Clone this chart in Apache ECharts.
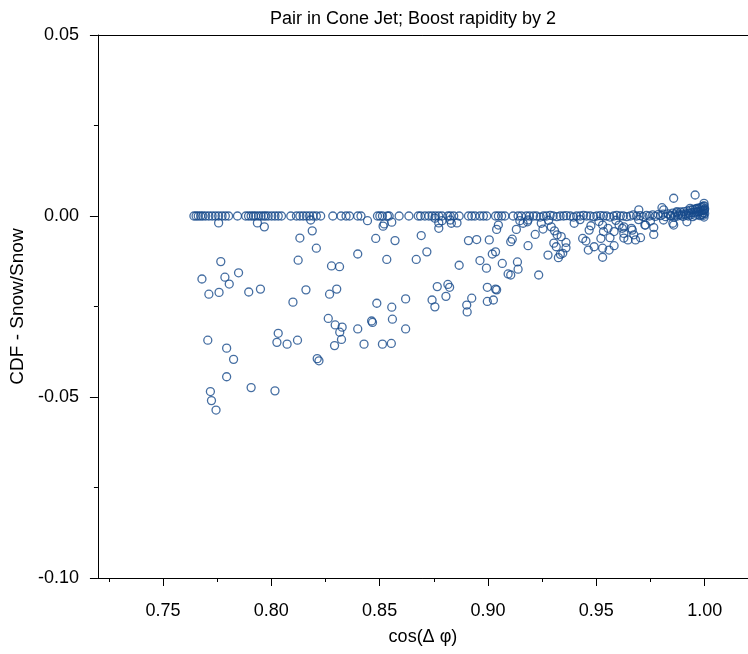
<!DOCTYPE html>
<html>
<head>
<meta charset="utf-8">
<script src="https://cdn.jsdelivr.net/npm/echarts@6/dist/echarts.min.js"></script>
<style>
html,body{margin:0;padding:0;background:#fff;}
#chart{width:748px;height:654px;}
</style>
</head>
<body>
<div id="chart"></div>
<script>
// ---- data: [cos(dphi), CDF - Snow/Snow] ----
const zeroBand = [
[0.7643,0],[0.7653,0],[0.7663,0],[0.7674,0],[0.7684,0],[0.7697,0],[0.7712,0],[0.7727,0],[0.7742,0],[0.7757,0],
[0.7773,0],[0.7788,0],[0.7803,0],[0.7844,0],[0.7882,0],[0.7895,0],[0.7907,0],[0.7918,0],[0.7928,0],[0.7941,0],
[0.7953,0],[0.7965,0],[0.7974,0],[0.7986,0],[0.8002,0],[0.8017,0],[0.8032,0],[0.8047,0],[0.8090,0],[0.8116,0],
[0.8132,0],[0.8147,0],[0.8162,0],[0.8177,0],[0.8193,0],[0.8208,0],[0.8228,0],[0.8284,0],[0.8322,0],
[0.8345,0],[0.8361,0],[0.8399,0],[0.8414,0],[0.8490,0],[0.8501,0],[0.8513,0],[0.8536,0],[0.8544,0],[0.8590,0],
[0.8635,0],[0.8678,0],[0.8689,0],[0.8709,0],[0.8727,0],[0.8742,0],[0.8757,0],[0.8773,0],[0.8788,0],[0.8815,0],
[0.8826,0],[0.8842,0],[0.8867,0],[0.8910,0],[0.8925,0],[0.8940,0],[0.8963,0],[0.8979,0],[0.8994,0],[0.9035,0],
[0.9048,0],[0.9063,0],[0.9078,0],[0.9116,0],[0.9139,0],[0.9154,0],[0.9177,0],[0.9192,0]
];
const bandRight = [
[0.9210,0],[0.9224,0],[0.9241,-0.0003],[0.9256,0],[0.9270,0],[0.9287,0.0002],[0.9301,0],[0.9318,-0.0002],
[0.9333,0],[0.9349,0],[0.9362,0.0001],[0.9380,0],[0.9395,-0.0003],[0.9409,0],[0.9426,0],[0.9441,0.0002],
[0.9455,0],[0.9472,0],[0.9488,-0.0002],[0.9502,0],[0.9519,0.0001],[0.9533,0],[0.9548,0],[0.9563,-0.0003],
[0.9580,0],[0.9594,0.0002],[0.9611,0],[0.9625,0],[0.9640,-0.0002],[0.9657,0],[0.9671,0.0003],[0.9686,0],
[0.9702,0.0001],[0.9716,-0.0002],[0.9731,0.0002],[0.9745,0],[0.9760,0.0003],[0.9772,-0.0001],[0.9785,0.0004],
[0.9797,0.0001],[0.9808,0.0005],[0.9820,-0.0002],[0.9831,0.0006],[0.9843,0.0002],[0.9852,0.0008],[0.9862,0.0003],
[0.9871,0.0009],[0.9880,0.0004],[0.9889,0.0011],[0.9897,0.0005],[0.9905,0.0012],[0.9913,0.0006],[0.9920,0.0014],
[0.9927,0.0008],[0.9934,0.0016],[0.9940,0.0009],[0.9946,0.0018],[0.9952,0.0010],[0.9957,0.0019],[0.9962,0.0011],
[0.9967,0.0021],[0.9971,0.0012],[0.9975,0.0022],[0.9979,0.0013],[0.9983,0.0024],[0.9986,0.0014],[0.9989,0.0025],
[0.9992,0.0015],[0.9994,0.0027],[0.9996,0.0016],[0.9998,0.0028],[0.9999,0.0017],[1.0000,0.0020],
[0.9990,0.0005],[0.9995,0.0002],[0.9997,-0.0003],[1.0000,0.0007],[0.9993,0.0009],[0.9985,0.0003],[0.9978,0.0001],
[0.9968,0.0004],[0.9955,0.0002],[0.9945,-0.0002],[0.9935,0.0003],[0.9925,0.0000],[0.9915,0.0002],[0.9900,-0.0001],
[0.9890,0.0002],[0.9875,0.0000],[0.9860,-0.0003],[0.9845,0.0000]
];
const spreadLeft = [
[0.7757,-0.0019],[0.7936,-0.0019],[0.7968,-0.0030],[0.8182,-0.0011],[0.8132,-0.0061],[0.8189,-0.0041],
[0.8208,-0.0089],[0.8124,-0.0122],[0.8278,-0.0138],[0.8315,-0.0140],[0.7767,-0.0126],[0.7680,-0.0174],
[0.7786,-0.0169],[0.7806,-0.0188],[0.7849,-0.0157],[0.7712,-0.0216],[0.7759,-0.0211],[0.7896,-0.0210],
[0.7950,-0.0202],[0.8160,-0.0204],[0.8100,-0.0238],[0.8269,-0.0216],[0.8302,-0.0202],[0.8263,-0.0283],
[0.8295,-0.0301],[0.8327,-0.0307],[0.8316,-0.0321],[0.8324,-0.0341],[0.8292,-0.0358],[0.7707,-0.0343],
[0.7794,-0.0365],[0.7826,-0.0396],[0.7794,-0.0444],[0.8032,-0.0324],[0.8026,-0.0349],[0.8073,-0.0354],
[0.8121,-0.0343],[0.8212,-0.0394],[0.8220,-0.0400],[0.7907,-0.0474],[0.8017,-0.0483],[0.7719,-0.0485],
[0.7724,-0.0510],[0.7745,-0.0536]
];
const spreadMiddle = [
[0.8444,-0.0013],[0.8521,-0.0022],[0.8516,-0.0028],[0.8556,-0.0017],[0.8755,-0.0006],[0.8773,-0.0019],
[0.8788,-0.0013],[0.8773,-0.0034],[0.8826,-0.0011],[0.8831,-0.0020],[0.8857,-0.0019],[0.9048,-0.0025],
[0.9040,-0.0037],[0.9131,-0.0037],[0.9147,-0.0013],[0.9162,-0.0020],[0.9182,-0.0016],[0.8482,-0.0062],
[0.8571,-0.0068],[0.8692,-0.0054],[0.8399,-0.0105],[0.8533,-0.0120],[0.8669,-0.0120],[0.8718,-0.0099],
[0.8910,-0.0068],[0.8948,-0.0065],[0.9006,-0.0066],[0.9112,-0.0064],[0.9105,-0.0071],[0.9185,-0.0082],
[0.9020,-0.0105],[0.9035,-0.0099],[0.8963,-0.0123],[0.9066,-0.0131],[0.9136,-0.0127],[0.8867,-0.0136],
[0.8993,-0.0144],[0.9139,-0.0147],[0.9093,-0.0160],[0.9105,-0.0163],[0.8766,-0.0195],[0.8815,-0.0189],
[0.8823,-0.0197],[0.8806,-0.0222],[0.8742,-0.0232],[0.8755,-0.0251],[0.8997,-0.0197],[0.9035,-0.0202],
[0.9040,-0.0204],[0.8925,-0.0227],[0.8902,-0.0246],[0.8904,-0.0265],[0.8997,-0.0236],[0.9025,-0.0232],
[0.8487,-0.0241],[0.8556,-0.0252],[0.8620,-0.0229],[0.8559,-0.0285],[0.8463,-0.0290],[0.8467,-0.0294],
[0.8620,-0.0312],[0.8399,-0.0312],[0.8428,-0.0354],[0.8513,-0.0354],[0.8554,-0.0352]
];
const spreadRight = [
[0.9185,-0.0011],[0.9218,-0.0051],[0.9246,-0.0020],[0.9254,-0.0036],[0.9292,-0.0030],[0.9307,-0.0041],
[0.9319,-0.0052],[0.9338,-0.0057],[0.9304,-0.0075],[0.9315,-0.0085],[0.9360,-0.0073],[0.9360,-0.0088],
[0.9277,-0.0108],[0.9334,-0.0106],[0.9345,-0.0103],[0.9325,-0.0115],[0.9234,-0.0163],[0.9398,-0.0020],
[0.9437,-0.0062],[0.9452,-0.0069],[0.9463,-0.0094],[0.9490,-0.0085],[0.9467,-0.0039],[0.9475,-0.0027],
[0.9521,-0.0062],[0.9529,-0.0025],[0.9533,-0.0043],[0.9554,-0.0034],[0.9529,-0.0089],[0.9559,-0.0094],
[0.9529,-0.0114],[0.9582,-0.0082],[0.9563,-0.0060],[0.9582,-0.0043],[0.9605,-0.0025],[0.9627,-0.0048],
[0.9627,-0.0061],[0.9646,-0.0066],[0.9620,-0.0034],[0.9662,-0.0034],[0.9724,-0.0025],[0.9857,0.0049],
[0.9956,0.0058],[0.9997,0.0035],[0.9933,0.0021],[0.9803,0.0023],[0.9811,0.0017],[0.9696,0.0017],
[0.9872,0.0012],[0.9964,0.0021],[0.9765,-0.0032],[0.9765,-0.0051],[0.9727,-0.0025],[0.9627,-0.0030],
[0.9666,-0.0039],[0.9673,-0.0052],[0.9704,-0.0060],[0.9681,-0.0066],[0.9853,-0.0020],[0.9857,-0.0025],
[0.9918,-0.0016],[0.9810,-0.0011],[0.9280,-0.0012],[0.9425,-0.0010],[0.9512,-0.0015],[0.9590,-0.0012],
[0.9695,-0.0010],[0.9750,-0.0014]
];
const xMajorTicks = [0.75, 0.80, 0.85, 0.90, 0.95, 1.00];
const xMinorTicks = [0.725, 0.775, 0.825, 0.875, 0.925, 0.975];
const titleText = 'Pair in Cone Jet; Boost rapidity by 2';
const xName = 'cos(\u0394 \u03c6)';
const yName = 'CDF - Snow/Snow';

const FONT = 'Liberation Sans, Arial, sans-serif';
const allPoints = zeroBand.concat(bandRight, spreadLeft, spreadMiddle, spreadRight);
const chart = echarts.init(document.getElementById('chart'), null, {renderer: 'canvas'});
const XMIN = 0.72, XMAX = 1.02;
chart.setOption({
  animation: false,
  backgroundColor: '#ffffff',
  title: {
    text: titleText, left: 408, top: 5, textAlign: 'center',
    textStyle: {fontFamily: FONT, fontSize: 18, fontWeight: 'normal', color: '#000'}
  },
  grid: {left: 93, right: 0, top: 35, bottom: 76, containLabel: false},
  xAxis: [
    {
      type: 'value', position: 'bottom', min: XMIN, max: XMAX,
      axisLine: {show: true, onZero: false, lineStyle: {color: '#000', width: 1}},
      axisTick: {show: true, customValues: xMajorTicks, length: 8, lineStyle: {color: '#000', width: 1}},
      axisLabel: {customValues: xMajorTicks, formatter: v => v.toFixed(2), margin: 24,
        fontFamily: FONT, fontSize: 18, color: '#000'},
      splitLine: {show: false},
      name: xName, nameLocation: 'middle', nameGap: 50,
      nameTextStyle: {fontFamily: FONT, fontSize: 18, color: '#000'}
    },
    {
      type: 'value', position: 'bottom', min: XMIN, max: XMAX,
      axisLine: {show: false, onZero: false},
      axisTick: {show: true, customValues: xMinorTicks, length: 4, lineStyle: {color: '#000', width: 1}},
      axisLabel: {show: false}, splitLine: {show: false}
    },
    {
      type: 'value', position: 'top', min: XMIN, max: XMAX,
      axisLine: {show: true, onZero: false, lineStyle: {color: '#000', width: 1}},
      axisTick: {show: false}, axisLabel: {show: false}, splitLine: {show: false}
    }
  ],
  yAxis: {
    type: 'value', min: -0.10, max: 0.05, interval: 0.05,
    axisLine: {show: true, onZero: false, lineStyle: {color: '#000', width: 1}},
    axisTick: {show: true, length: 8, lineStyle: {color: '#000', width: 1}},
    minorTick: {show: true, splitNumber: 2, length: 4, lineStyle: {color: '#000', width: 1}},
    axisLabel: {formatter: v => (Math.abs(v) < 1e-9 ? '0.00' : v.toFixed(2)), margin: 19,
      fontFamily: FONT, fontSize: 18, color: '#000'},
    splitLine: {show: false}, minorSplitLine: {show: false},
    name: yName, nameLocation: 'middle', nameGap: 65,
    nameTextStyle: {fontFamily: FONT, fontSize: 19, color: '#000'}
  },
  series: [{
    type: 'scatter', xAxisIndex: 0, yAxisIndex: 0,
    symbol: 'circle', symbolSize: 8,
    itemStyle: {color: 'rgba(0,0,0,0)', borderColor: '#174a8b', borderWidth: 1.3},
    emphasis: {disabled: true},
    data: allPoints
  }]
});
</script>
</body>
</html>
